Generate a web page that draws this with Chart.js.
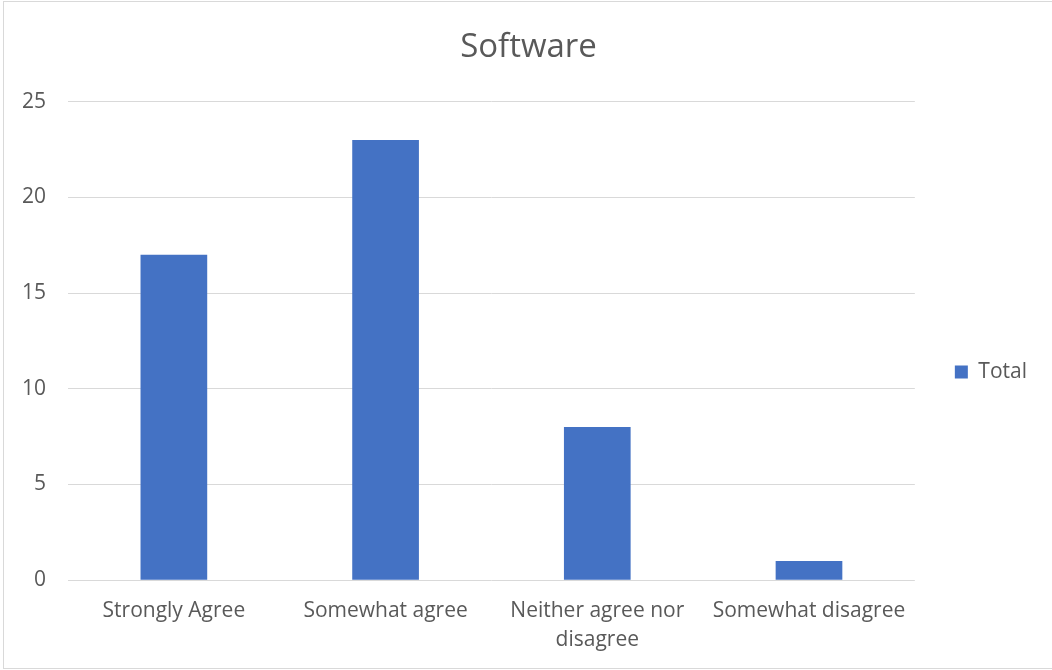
<!DOCTYPE html>
<html>
<head>
<meta charset="utf-8">
<script src="https://cdn.jsdelivr.net/npm/chart.js@4"></script>
<style>
html,body{margin:0;padding:0;background:#fff;}
#wrap{position:absolute;left:0;top:0;width:1052px;height:670px;}
#frame{position:absolute;left:3px;top:1px;width:1060px;height:668px;border:1px solid #d9d9d9;box-sizing:border-box;pointer-events:none;}
canvas{position:absolute;left:0;top:0;}
</style>
</head>
<body>
<div id="wrap"><canvas id="c" width="1052" height="670"></canvas><div id="frame"></div></div>
<script>
const categories = ["Strongly Agree", "Somewhat agree", ["Neither agree nor", "disagree"], "Somewhat disagree"];
const seriesName = "Total";
const totalValues = [17, 23, 8, 1];
const yTicks = [0, 5, 10, 15, 20, 25];

const FONT = "'Open Sans', sans-serif";
const boxShift = {
  id: 'boxShift',
  afterLayout(chart) {
    const lg = chart.legend;
    if (lg) { lg.top += 34; lg.bottom += 34; lg.left += 20; lg.right += 20; }
    const tb = chart.titleBlock;
    if (tb) { tb.left += 20; tb.right += 20; }
  }
};
new Chart(document.getElementById('c'), {
  type: 'bar',
  data: {
    labels: categories,
    datasets: [{
      label: seriesName,
      data: totalValues,
      backgroundColor: '#4472c4',
      borderWidth: 0,
      barPercentage: 0.63,
      categoryPercentage: 0.5
    }]
  },
  plugins: [boxShift],
  options: {
    responsive: false,
    animation: false,
    devicePixelRatio: 1,
    layout: { padding: { left: 0, right: 35, top: 14, bottom: 8 } },
    plugins: {
      title: {
        display: true,
        text: 'Software',
        color: '#595959',
        font: { family: FONT, size: 33, weight: 'normal' },
        padding: { top: 14, bottom: 34 }
      },
      legend: {
        position: 'right',
        labels: {
          color: '#595959',
          font: { family: FONT, size: 21 },
          boxWidth: 13,
          boxHeight: 13,
          padding: 20
        }
      },
      tooltip: { enabled: false }
    },
    scales: {
      y: {
        min: 0, max: 25,
        afterBuildTicks: (s) => { s.ticks = yTicks.map(v => ({ value: v })); },
        ticks: { color: '#595959', font: { family: FONT, size: 21 }, padding: 22 },
        grid: { color: '#d9d9d9', lineWidth: 1, drawTicks: false },
        border: { display: false }
      },
      x: {
        afterFit: (s) => { s.height -= 9; },
        ticks: { color: '#595959', font: { family: FONT, size: 21, lineHeight: 1.4 }, padding: 16, maxRotation: 0, autoSkip: false },
        grid: { display: false, drawTicks: false },
        border: { display: false }
      }
    }
  }
});
</script>
</body>
</html>
